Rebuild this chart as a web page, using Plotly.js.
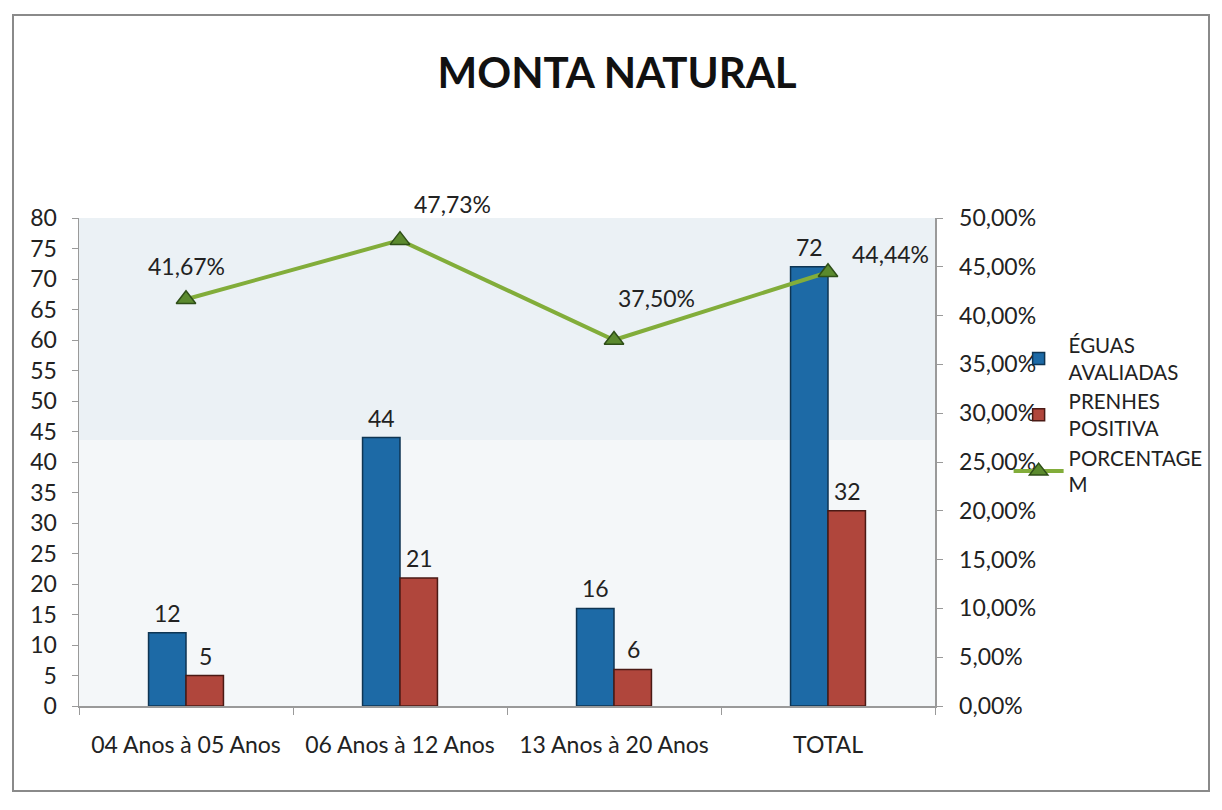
<!DOCTYPE html>
<html>
<head>
<meta charset="utf-8">
<script src="https://cdn.plot.ly/plotly-3.0.1.min.js"></script>
<style>
  html, body { margin: 0; padding: 0; background: #fff; }
  #wrap { position: relative; width: 1222px; height: 810px; }
  #chart { width: 1222px; height: 810px; }
  #frame { position: absolute; left: 12px; top: 14px; width: 1194px; height: 774px;
           border: 2px solid #8a8a8a; pointer-events: none; }
</style>
</head>
<body>
<div id="wrap">
  <div id="chart"></div>
  <div id="frame"></div>
</div>
<script>
// ---- data ----
const categories = ["04 Anos à 05 Anos", "06 Anos à 12 Anos", "13 Anos à 20 Anos", "TOTAL"];
const eguasAvaliadas = [12, 44, 16, 72];
const prenhesPositiva = [5, 21, 6, 32];
const porcentagem = [0.4167, 0.4773, 0.375, 0.4444];
const seriesNames = ["ÉGUAS<br>AVALIADAS", "PRENHES<br>POSITIVA", "PORCENTAGE<br>M"];
const leftTicks = [0, 5, 10, 15, 20, 25, 30, 35, 40, 45, 50, 55, 60, 65, 70, 75, 80];
const rightTicks = [0, 0.05, 0.10, 0.15, 0.20, 0.25, 0.30, 0.35, 0.40, 0.45, 0.50];

// ---- styles ----
const FONT = "Lato, 'Open Sans', sans-serif";
const blue = "#1d6aa6", red = "#b0463c", green = "#82ad3a";
const pctLabelShift = [[0, 33], [52, 36], [42, 42], [62, 18]];

function fmtPct(v) { return (v * 100).toFixed(2).replace('.', ',') + '%'; }

const traces = [
  { type: 'bar', name: seriesNames[0], x: categories, y: eguasAvaliadas,
    marker: { color: blue, line: { color: '#0e3553', width: 1.5 } }, yaxis: 'y' },
  { type: 'bar', name: seriesNames[1], x: categories, y: prenhesPositiva,
    marker: { color: red, line: { color: '#4a1a15', width: 1.5 } }, yaxis: 'y' },
  { type: 'scatter', mode: 'lines+markers', name: seriesNames[2], x: categories, y: porcentagem,
    yaxis: 'y2', line: { color: green, width: 4 },
    marker: { symbol: 'triangle-up', size: 17, color: '#5b8a2e', line: { color: '#2f4f18', width: 1.5 } } }
];

const annotations = [];
const lblFont = { family: FONT, size: 23, color: '#222' };
categories.forEach((c, i) => {
  annotations.push({ x: c, y: eguasAvaliadas[i], xref: 'x', yref: 'y', text: String(eguasAvaliadas[i]),
    showarrow: false, xshift: -19, yshift: 4, yanchor: 'bottom', font: lblFont });
  annotations.push({ x: c, y: prenhesPositiva[i], xref: 'x', yref: 'y', text: String(prenhesPositiva[i]),
    showarrow: false, xshift: 19, yshift: 4, yanchor: 'bottom', font: lblFont });
  annotations.push({ x: c, y: porcentagem[i], xref: 'x', yref: 'y2', text: fmtPct(porcentagem[i]),
    showarrow: false, xshift: pctLabelShift[i][0], yshift: pctLabelShift[i][1], yanchor: 'middle',
    font: lblFont });
});

const layout = {
  width: 1222, height: 810,
  margin: { l: 79, r: 287, t: 218, b: 104, pad: 0 },
  paper_bgcolor: '#ffffff',
  plot_bgcolor: '#f4f7f9',
  separators: ',.',
  font: { family: FONT, size: 21, color: '#222' },
  title: { text: '<b>MONTA NATURAL</b>', font: { family: FONT, size: 42, color: '#111' },
           x: 0.505, xanchor: 'center', y: 0.91, yanchor: 'middle', yref: 'container', xref: 'container' },
  barmode: 'group', bargap: 0.65, bargroupgap: 0,
  showlegend: true,
  legend: { x: 1.086, y: 0.78, xanchor: 'left', yanchor: 'top', traceorder: 'normal',
            font: { family: FONT, size: 20.5, color: '#222' }, bgcolor: 'rgba(0,0,0,0)', itemwidth: 50 },
  xaxis: { type: 'category', showline: true, linecolor: '#9a9a9a', linewidth: 1.5,
           ticks: 'outside', tickson: 'boundaries', ticklen: 7, tickcolor: '#9a9a9a',
           ticklabelstandoff: 18, tickfont: { family: FONT, size: 23, color: '#222' },
           showgrid: false, zeroline: false },
  yaxis: { range: [0, 80], tickvals: leftTicks, showline: true, linecolor: '#9a9a9a', linewidth: 1.5,
           ticks: 'outside', ticklen: 6, tickcolor: '#9a9a9a', ticklabelstandoff: 10,
           tickfont: { family: FONT, size: 23, color: '#222' }, showgrid: false, zeroline: false },
  yaxis2: { range: [0, 0.5], tickvals: rightTicks, tickformat: '.2%', overlaying: 'y', side: 'right',
            showline: true, linecolor: '#9a9a9a', linewidth: 1.5, ticks: 'outside', ticklen: 6,
            tickcolor: '#9a9a9a', ticklabelstandoff: 12,
            tickfont: { family: FONT, size: 23, color: '#222' }, showgrid: false, zeroline: false },
  shapes: [
    { type: 'rect', xref: 'paper', yref: 'paper', x0: 0, x1: 1, y0: 0.545, y1: 1,
      fillcolor: '#ebf1f5', line: { width: 0 }, layer: 'below' }
  ],
  annotations: annotations
};

Plotly.newPlot('chart', traces, layout, { displayModeBar: false, staticPlot: true });
</script>
</body>
</html>
